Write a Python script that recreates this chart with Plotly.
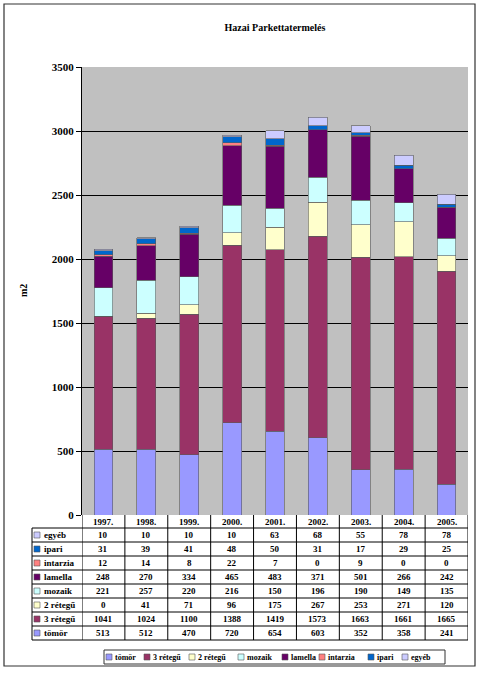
import plotly.graph_objects as go

# ---------------- data ----------------
years = ["1997.", "1998.", "1999.", "2000.", "2001.", "2002.", "2003.", "2004.", "2005."]
series_names = ["tömör", "3 rétegű", "2 rétegű", "mozaik", "lamella", "intarzia", "ipari", "egyéb"]
tomor = [513, 512, 470, 720, 654, 603, 352, 358, 241]
retegu3 = [1041, 1024, 1100, 1388, 1419, 1573, 1663, 1661, 1665]
retegu2 = [0, 41, 71, 96, 175, 267, 253, 271, 120]
mozaik = [221, 257, 220, 216, 150, 196, 190, 149, 135]
lamella = [248, 270, 334, 465, 483, 371, 501, 266, 242]
intarzia = [12, 14, 8, 22, 7, 0, 9, 0, 0]
ipari = [31, 39, 41, 48, 50, 31, 17, 29, 25]
egyeb = [10, 10, 10, 10, 63, 68, 55, 78, 78]
y_ticks = [0, 500, 1000, 1500, 2000, 2500, 3000, 3500]

series_values = [tomor, retegu3, retegu2, mozaik, lamella, intarzia, ipari, egyeb]
colors = ["#9999FF", "#993366", "#FFFFCC", "#CCFFFF", "#660066", "#FF8080", "#0066CC", "#CCCCFF"]

# ---------------- layout geometry (pixels) ----------------
W, H = 480, 675
PL, PR, PT, PB = 82, 468, 67, 515
pw, ph = PR - PL, PB - PT
FONT = "Liberation Serif"


def px_x(px):
    return (px - PL) / pw


def px_y(py):
    return (PB - py) / ph


fig = go.Figure()
for name, vals, col in zip(series_names, series_values, colors):
    fig.add_trace(go.Bar(
        x=years, y=vals, name=name,
        marker=dict(color=col, line=dict(color="#5a5a5a", width=0.6)),
        width=0.44, showlegend=False,
    ))

shapes = []
annotations = []

# outer frame
shapes.append(dict(type="rect", xref="paper", yref="paper",
                   x0=px_x(4), x1=px_x(475), y0=px_y(666), y1=px_y(4),
                   line=dict(color="#333333", width=1.2), layer="below"))

# ---------------- data table ----------------
row_bounds = [515, 528, 542, 556, 570, 584, 598, 612, 626, 640]
label_left = 32
line_style = dict(color="black", width=1)
for k, yb in enumerate(row_bounds):
    if k == 0:
        continue
    shapes.append(dict(type="line", xref="paper", yref="paper",
                       x0=px_x(label_left), x1=1,
                       y0=px_y(yb), y1=px_y(yb), line=line_style))
for i in range(len(years) + 1):
    shapes.append(dict(type="line", xref="x", yref="paper",
                       x0=i - 0.5, x1=i - 0.5,
                       y0=px_y(row_bounds[0]), y1=px_y(row_bounds[-1]),
                       line=line_style))
shapes.append(dict(type="line", xref="paper", yref="paper",
                   x0=px_x(label_left), x1=px_x(label_left),
                   y0=px_y(row_bounds[1]), y1=px_y(row_bounds[-1]), line=line_style))

# header years (x given as category index on the x axis)
for i, yr in enumerate(years):
    annotations.append(dict(x=i, xref="x", yref="paper",
                            y=px_y((row_bounds[0] + row_bounds[1]) / 2),
                            text="<b>%s</b>" % yr, showarrow=False, yanchor="middle",
                            font=dict(family=FONT, size=9, color="black")))

order = list(range(len(series_names)))[::-1]
for r, si in enumerate(order):
    yc = (row_bounds[r + 1] + row_bounds[r + 2]) / 2
    shapes.append(dict(type="rect", xref="paper", yref="paper",
                       x0=px_x(34), x1=px_x(40), y0=px_y(yc + 3), y1=px_y(yc - 3),
                       fillcolor=colors[si], line=dict(color="#555555", width=0.6)))
    annotations.append(dict(x=px_x(41.5), xref="paper", yref="paper", y=px_y(yc),
                            text="<b>%s</b>" % series_names[si], showarrow=False,
                            xanchor="left", yanchor="middle",
                            font=dict(family=FONT, size=9, color="black")))
    for i, v in enumerate(series_values[si]):
        annotations.append(dict(x=i, xref="x", yref="paper", y=px_y(yc),
                                text="<b>%d</b>" % v, showarrow=False, yanchor="middle",
                                font=dict(family=FONT, size=9, color="black")))

# ---------------- bottom legend (manual) ----------------
leg_x = [106, 144, 189, 238, 282, 319, 368, 402]
leg_top, leg_bot = 650, 664
shapes.append(dict(type="rect", xref="paper", yref="paper",
                   x0=px_x(104), x1=px_x(445), y0=px_y(leg_bot), y1=px_y(leg_top),
                   line=dict(color="#333333", width=1), fillcolor="white"))
lyc = (leg_top + leg_bot) / 2
for xk, name, col in zip(leg_x, series_names, colors):
    shapes.append(dict(type="rect", xref="paper", yref="paper",
                       x0=px_x(xk), x1=px_x(xk + 6), y0=px_y(lyc + 3), y1=px_y(lyc - 3),
                       fillcolor=col, line=dict(color="#555555", width=0.6)))
    annotations.append(dict(x=px_x(xk + 7), xref="paper", yref="paper", y=px_y(lyc),
                            text="<b>%s</b>" % name, showarrow=False,
                            xanchor="left", yanchor="middle",
                            font=dict(family=FONT, size=8, color="black")))

annotations.append(dict(x=px_x(23), xref="paper", yref="paper", y=0.5,
                        text="<b>m2</b>", textangle=-90, showarrow=False,
                        xanchor="center", yanchor="middle",
                        font=dict(family=FONT, size=10, color="black")))

fig.update_layout(
    width=W, height=H,
    margin=dict(l=PL, r=W - PR, t=PT, b=H - PB, autoexpand=False),
    barmode="stack",
    paper_bgcolor="white",
    plot_bgcolor="#C0C0C0",
    title=dict(text="<b>Hazai Parkettatermelés</b>", x=0.5, xanchor="center",
               xref="paper", y=1 - 27 / H, yanchor="middle",
               font=dict(family=FONT, size=10, color="black")),
    font=dict(family=FONT, color="black"),
    xaxis=dict(type="category", range=[-0.5, len(years) - 0.5], showticklabels=False,
               showgrid=False, zeroline=False, showline=False, ticks=""),
    yaxis=dict(range=[0, 3500], tickvals=y_ticks, ticktext=["<b>%d</b>" % t for t in y_ticks],
               showgrid=True, gridcolor="black", gridwidth=1, zeroline=False,
               showline=True, linecolor="black", linewidth=1,
               ticks="outside", ticklen=5, tickcolor="black",
               tickfont=dict(family=FONT, size=11, color="black")),
    shapes=shapes,
    annotations=annotations,
)

fig.write_html("out.html",
               config={"displayModeBar": False},
               post_script="document.body.style.margin='0';document.body.style.padding='0';")
